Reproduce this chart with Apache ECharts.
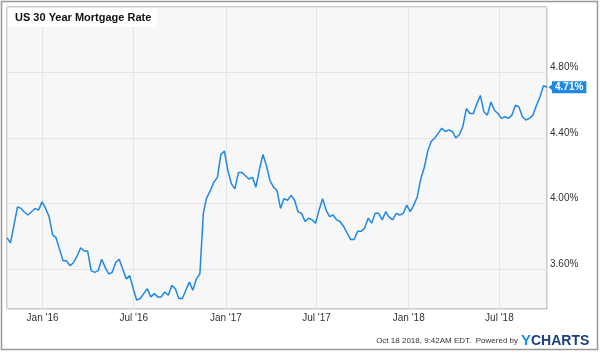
<!DOCTYPE html>
<html>
<head>
<meta charset="utf-8">
<script src="https://cdn.jsdelivr.net/npm/echarts@6/dist/echarts.min.js"></script>
<style>
html,body{margin:0;padding:0;background:#fff;}
#chart{width:600px;height:353px;}
</style>
</head>
<body>
<div id="chart"></div>
<script>
// Weekly US 30 Year Mortgage Rate (%)
var dates2015 = ['2015-10-22','2015-10-29','2015-11-05','2015-11-12','2015-11-19','2015-11-25','2015-12-03','2015-12-10','2015-12-17','2015-12-24','2015-12-31'];
var rates2015 = [3.79,3.76,3.87,3.98,3.97,3.95,3.93,3.95,3.97,3.96,4.01];

var dates2016 = ['2016-01-07','2016-01-14','2016-01-21','2016-01-28','2016-02-04','2016-02-11','2016-02-18','2016-02-25','2016-03-03','2016-03-10','2016-03-17','2016-03-24','2016-03-31','2016-04-07','2016-04-14','2016-04-21','2016-04-28','2016-05-05','2016-05-12','2016-05-19','2016-05-26','2016-06-02','2016-06-09','2016-06-16','2016-06-23','2016-06-30','2016-07-07','2016-07-14','2016-07-21','2016-07-28','2016-08-04','2016-08-11','2016-08-18','2016-08-25','2016-09-01','2016-09-08','2016-09-15','2016-09-22','2016-09-29','2016-10-06','2016-10-13','2016-10-20','2016-10-27','2016-11-03','2016-11-10','2016-11-17','2016-11-23','2016-12-01','2016-12-08','2016-12-15','2016-12-22','2016-12-29'];
var rates2016 = [3.97,3.92,3.81,3.79, 3.72,3.65,3.65,3.62, 3.64,3.68,3.73,3.71,3.71, 3.59,3.58,3.59,3.66, 3.61,3.57,3.58,3.64, 3.66,3.60,3.54,3.56,3.48, 3.41,3.42,3.45,3.48, 3.43,3.45,3.43,3.43, 3.46,3.44,3.50,3.48,3.42, 3.42,3.47,3.52,3.47, 3.54,3.57,3.94,4.03, 4.08,4.13,4.16,4.30,4.32];

var dates2017 = ['2017-01-05','2017-01-12','2017-01-19','2017-01-26','2017-02-02','2017-02-09','2017-02-16','2017-02-23','2017-03-02','2017-03-09','2017-03-16','2017-03-23','2017-03-30','2017-04-06','2017-04-13','2017-04-20','2017-04-27','2017-05-04','2017-05-11','2017-05-18','2017-05-25','2017-06-01','2017-06-08','2017-06-15','2017-06-22','2017-06-29','2017-07-06','2017-07-13','2017-07-20','2017-07-27','2017-08-03','2017-08-10','2017-08-17','2017-08-24','2017-08-31','2017-09-07','2017-09-14','2017-09-21','2017-09-28','2017-10-05','2017-10-12','2017-10-19','2017-10-26','2017-11-02','2017-11-09','2017-11-16','2017-11-22','2017-11-30','2017-12-07','2017-12-14','2017-12-21','2017-12-28'];
var rates2017 = [4.20,4.12,4.09,4.19, 4.19,4.17,4.15,4.16, 4.10,4.21,4.30,4.23,4.14, 4.10,4.08,3.97,4.03, 4.02,4.05,4.02,3.95, 3.94,3.89,3.91,3.90,3.88, 3.96,4.03,3.96,3.92, 3.93,3.90,3.89,3.86,3.82, 3.78,3.78,3.83,3.83, 3.85,3.91,3.88,3.94, 3.94,3.90,3.95,3.92,3.90, 3.94,3.93,3.94,3.99];

var dates2018 = ['2018-01-04','2018-01-11','2018-01-18','2018-01-25','2018-02-01','2018-02-08','2018-02-15','2018-02-22','2018-03-01','2018-03-08','2018-03-15','2018-03-22','2018-03-29','2018-04-05','2018-04-12','2018-04-19','2018-04-26','2018-05-03','2018-05-10','2018-05-17','2018-05-24','2018-05-31','2018-06-07','2018-06-14','2018-06-21','2018-06-28','2018-07-05','2018-07-12','2018-07-19','2018-07-26','2018-08-02','2018-08-09','2018-08-16','2018-08-23','2018-08-30','2018-09-06','2018-09-13','2018-09-20','2018-09-27','2018-10-04'];
var rates2018 = [3.95,3.99,4.04,4.15, 4.22,4.32,4.38,4.40, 4.43,4.46,4.44,4.45,4.44, 4.40,4.42,4.47,4.58, 4.55,4.55,4.61,4.66,4.56, 4.54,4.62,4.57,4.55, 4.52,4.53,4.52,4.54, 4.60,4.59,4.53,4.51,4.52, 4.54,4.60,4.65,4.72, 4.71];

var yTickValues = [3.6, 4.0, 4.4, 4.8];
var monthNames = ['Jan','Feb','Mar','Apr','May','Jun','Jul','Aug','Sep','Oct','Nov','Dec'];
var titleText = 'US 30 Year Mortgage Rate';
var footerText = 'Oct 18 2018, 9:42AM EDT.  Powered by';

var allDates = dates2015.concat(dates2016, dates2017, dates2018);
var allRates = rates2015.concat(rates2016, rates2017, rates2018);
var seriesData = allDates.map(function (d, i) { return [d, allRates[i]]; });
var lastPoint = seriesData[seriesData.length - 1];

var FONT = '"Liberation Sans", Arial, Helvetica, sans-serif';
var BLUE = '#1e88e5';

var chart = echarts.init(document.getElementById('chart'), null, {renderer: 'canvas'});
chart.setOption({
  animation: false,
  backgroundColor: '#ffffff',
  textStyle: {fontFamily: FONT},
  title: {
    text: titleText,
    left: 8, top: 8,
    padding: [4, 6, 4, 7],
    backgroundColor: '#ffffff',
    textStyle: {fontFamily: FONT, fontSize: 11, fontWeight: 'bold', color: '#111'}
  },
  grid: {
    left: 7, right: 53, top: 7, bottom: 44,
    show: true,
    backgroundColor: '#f7f7f7',
    borderColor: '#9a9a9a',
    borderWidth: 1,
    containLabel: false
  },
  xAxis: {
    type: 'time',
    min: allDates[0],
    max: allDates[allDates.length - 1],
    splitNumber: 5,
    axisLine: {show: false},
    axisTick: {show: false},
    splitLine: {show: true, lineStyle: {color: '#e4e4e4', width: 1}},
    axisLabel: {
      showMinLabel: false, showMaxLabel: false,
      margin: 4,
      fontFamily: FONT, fontSize: 10, color: '#333',
      formatter: function (v) {
        var d = new Date(v);
        return monthNames[d.getMonth()] + " '" + String(d.getFullYear()).slice(2);
      }
    }
  },
  yAxis: {
    type: 'value',
    position: 'right',
    min: 3.356,
    max: 5.2,
    minInterval: 0.4,
    maxInterval: 0.4,
    scale: true,
    axisLine: {show: false},
    axisTick: {show: false},
    splitLine: {show: true, lineStyle: {color: '#e4e4e4', width: 1}},
    axisLabel: {
      showMinLabel: false, showMaxLabel: false,
      margin: 3,
      verticalAlign: 'bottom',
      fontFamily: FONT, fontSize: 10, color: '#333',
      formatter: function (v) {
        for (var i = 0; i < yTickValues.length; i++) {
          if (Math.abs(v - yTickValues[i]) < 1e-6) return v.toFixed(2) + '%';
        }
        return '';
      }
    }
  },
  series: [{
    type: 'line',
    data: seriesData,
    showSymbol: false,
    symbol: 'none',
    lineStyle: {color: BLUE, width: 1.5},
    itemStyle: {color: BLUE},
    clip: false,
    endLabel: {
      show: true,
      distance: 5,
      formatter: function (p) { return p.value[1].toFixed(2) + '%'; },
      color: '#fff',
      fontFamily: FONT,
      fontSize: 10,
      fontWeight: 'bold',
      backgroundColor: BLUE,
      padding: [1, 3, 1, 3]
    },
    markPoint: {
      silent: true,
      symbol: 'triangle',
      symbolSize: [8, 5],
      symbolRotate: 90,
      symbolOffset: [4, 0],
      itemStyle: {color: BLUE},
      label: {show: false},
      data: [{coord: lastPoint}]
    }
  }],
  graphic: [
    {type: 'rect', z: 100, shape: {x: 1.5, y: 1.5, width: 596, height: 348}, style: {fill: 'none', stroke: '#999', lineWidth: 1.5}},
    {type: 'text', z: 100, x: 518, y: 341, style: {text: footerText, align: 'right', verticalAlign: 'middle', fontFamily: FONT, fontSize: 8, fill: '#333'}},
    {type: 'text', z: 100, x: 521, y: 341, style: {text: '{y|Y}{c|CHARTS}', align: 'left', verticalAlign: 'middle',
      rich: {y: {fontFamily: FONT, fontSize: 15, fontWeight: 'bold', fill: '#1a8fe3', color: '#1a8fe3'}, c: {fontFamily: FONT, fontSize: 14, fontWeight: 'bold', fill: '#1b3f7c', color: '#1b3f7c'}}}}
  ]
});
</script>
</body>
</html>
